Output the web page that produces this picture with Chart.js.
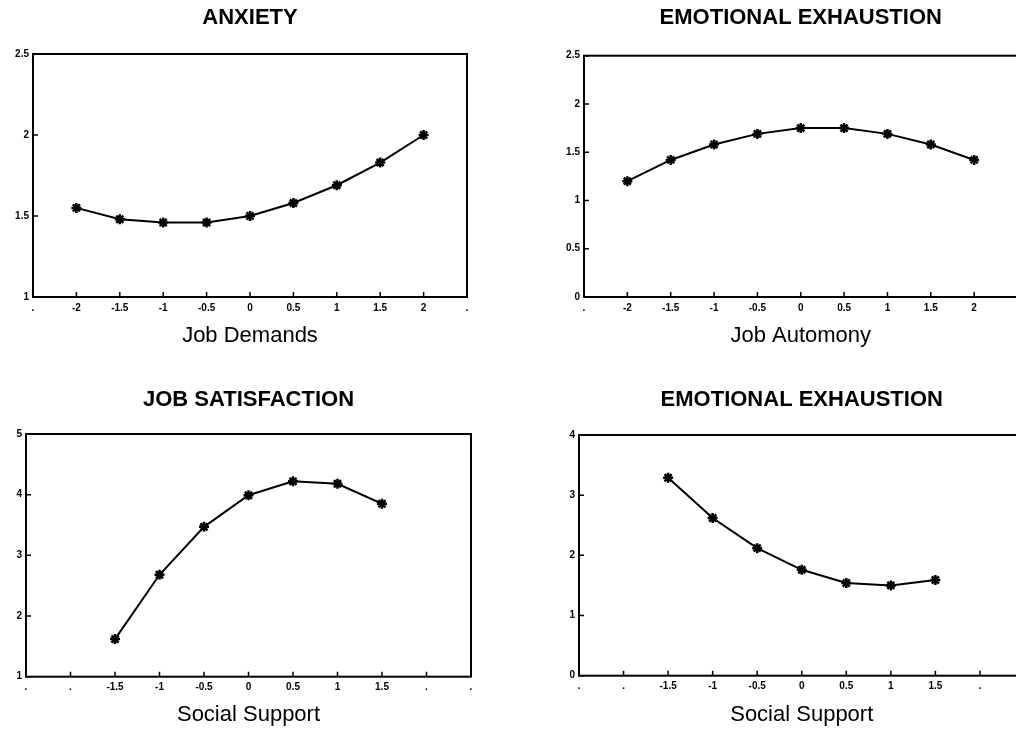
<!DOCTYPE html>
<html>
<head>
<meta charset="utf-8">
<script src="https://cdn.jsdelivr.net/npm/chart.js@4/dist/chart.umd.min.js"></script>
<style>
  body { margin: 0; width: 1016px; height: 732px; overflow: hidden; position: relative; background: #fff; }
  canvas { position: absolute; }
</style>
</head>
<body>
<canvas id="c1" style="left:0px;top:0px"></canvas>
<canvas id="c2" style="left:551px;top:0px"></canvas>
<canvas id="c3" style="left:0px;top:380px"></canvas>
<canvas id="c4" style="left:546px;top:380px"></canvas>
<script>
// x categories (the "." ends are blank slots on the original axes)
const labelsWide = ['.', '-2', '-1.5', '-1', '-0.5', '0', '0.5', '1', '1.5', '2', '.'];
const labelsNarrow = ['.', '.', '-1.5', '-1', '-0.5', '0', '0.5', '1', '1.5', '.', '.'];

// series values
const anxiety = [null, 1.55, 1.48, 1.46, 1.46, 1.50, 1.58, 1.69, 1.83, 2.00, null];
const exhaustionAutonomy = [null, 1.20, 1.42, 1.58, 1.69, 1.75, 1.75, 1.69, 1.58, 1.42, null];
const satisfaction = [null, null, 1.62, 2.68, 3.47, 3.99, 4.22, 4.18, 3.85, null, null];
const exhaustionSupport = [null, null, 3.29, 2.62, 2.12, 1.76, 1.54, 1.50, 1.59, null, null];

const titles = ['ANXIETY', 'EMOTIONAL EXHAUSTION', 'JOB SATISFACTION', 'EMOTIONAL EXHAUSTION'];
const xTitles = ['Job Demands', 'Job Automony', 'Social Support', 'Social Support'];

// box around the plot plus short inward tick marks
const frame = {
  id: 'frame',
  afterDraw(chart) {
    const { ctx, chartArea: a, scales } = chart;
    ctx.save();
    ctx.strokeStyle = '#000';
    ctx.lineWidth = 2;
    ctx.strokeRect(a.left, a.top, a.right - a.left, a.bottom - a.top);
    ctx.lineWidth = 1.5;
    ctx.beginPath();
    scales.x.ticks.forEach((t, i) => {
      const px = scales.x.getPixelForTick(i);
      ctx.moveTo(px, a.bottom);
      ctx.lineTo(px, a.bottom - 5);
    });
    scales.y.ticks.forEach((t, i) => {
      const py = scales.y.getPixelForTick(i);
      ctx.moveTo(a.left, py);
      ctx.lineTo(a.left + 5, py);
    });
    ctx.stroke();
    ctx.restore();
  }
};

function makeChart(id, opts) {
  const canvas = document.getElementById(id);
  canvas.width = opts.w;
  canvas.height = opts.h;
  canvas.style.width = opts.w + 'px';
  canvas.style.height = opts.h + 'px';
  return new Chart(canvas, {
    type: 'line',
    data: {
      labels: opts.labels,
      datasets: [{
        data: opts.data,
        borderColor: '#000',
        backgroundColor: '#000',
        borderWidth: 2,
        pointStyle: 'star',
        pointRadius: 5,
        pointBorderWidth: 2.5,
        tension: 0,
        spanGaps: false
      }]
    },
    options: {
      responsive: false,
      animation: false,
      events: [],
      layout: { padding: { left: 0, right: opts.padRight, top: 0, bottom: 0 } },
      plugins: {
        legend: { display: false },
        tooltip: { enabled: false },
        title: {
          display: true,
          text: opts.title,
          fullSize: false,
          color: '#000',
          font: { family: 'Liberation Sans', size: 22, weight: 'bold' },
          padding: { top: opts.titleTop, bottom: opts.titleBottom }
        }
      },
      scales: {
        x: {
          offset: false,
          grid: { display: false, drawTicks: false },
          border: { display: false },
          ticks: {
            color: '#000', padding: 5, autoSkip: false, maxRotation: 0,
            font: { family: 'Liberation Sans', size: 10, weight: 'bold' }
          },
          title: {
            display: true,
            text: opts.xTitle,
            color: '#000',
            font: { family: 'Liberation Sans', size: 22 },
            padding: { top: 0, bottom: opts.xTitlePad }
          },
          afterFit: (s) => { s.height = opts.xHeight; }
        },
        y: {
          min: opts.min,
          max: opts.max,
          grid: { display: false, drawTicks: false },
          border: { display: false },
          ticks: {
            stepSize: opts.step, color: '#000', padding: 4,
            font: { family: 'Liberation Sans', size: 10, weight: 'bold' },
            callback: (v) => String(v)
          },
          afterFit: (s) => { s.width = opts.yWidth; }
        }
      }
    },
    plugins: [frame]
  });
}

makeChart('c1', {
  w: 508, h: 360, padRight: 41, yWidth: 33, xHeight: 63,
  labels: labelsWide, data: anxiety, title: titles[0], xTitle: xTitles[0],
  titleTop: 4.8, titleBottom: 22.8, xTitlePad: 11.3, min: 1, max: 2.5, step: 0.5
});
makeChart('c2', {
  w: 474, h: 360, padRight: 4, yWidth: 33, xHeight: 63,
  labels: labelsWide, data: exhaustionAutonomy, title: titles[1], xTitle: xTitles[1],
  titleTop: 4.8, titleBottom: 24.5, xTitlePad: 11.3, min: 0, max: 2.5, step: 0.5
});
makeChart('c3', {
  w: 508, h: 352, padRight: 37, yWidth: 26, xHeight: 55.3,
  labels: labelsNarrow, data: satisfaction, title: titles[2], xTitle: xTitles[2],
  titleTop: 6.8, titleBottom: 20.8, xTitlePad: 3.8, min: 1, max: 5, step: 1
});
makeChart('c4', {
  w: 486, h: 352, padRight: 3, yWidth: 33, xHeight: 56.3,
  labels: labelsNarrow, data: exhaustionSupport, title: titles[3], xTitle: xTitles[3],
  titleTop: 6.8, titleBottom: 21.8, xTitlePad: 3.8, min: 0, max: 4, step: 1
});
</script>
</body>
</html>
